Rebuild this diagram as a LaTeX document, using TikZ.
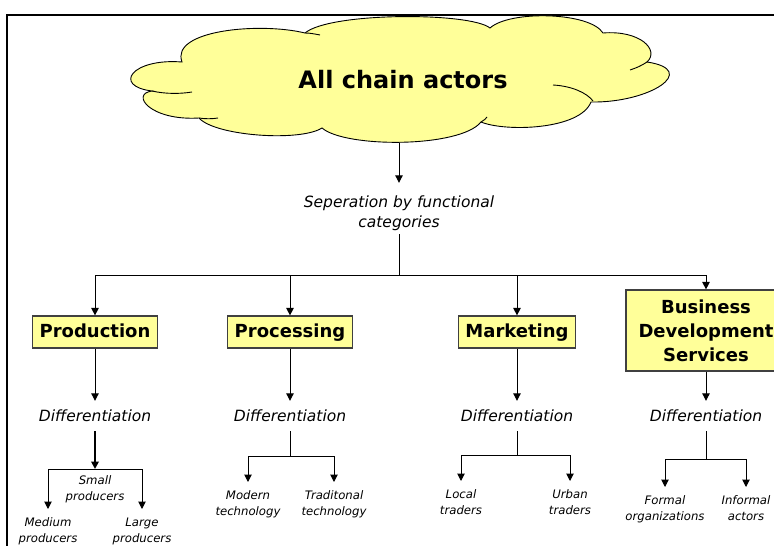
\documentclass[tikz,border=0pt]{standalone}
\usepackage{fontspec}
\setmainfont{DejaVu Sans}
\usetikzlibrary{arrows.meta}
\definecolor{chainyellow}{HTML}{FFFF99}

\begin{document}
\begin{tikzpicture}[x=1pt,y=-1pt,
	tip/.style={-{Triangle[width=7.5pt,length=7.5pt]}},
	link/.style={line width=1pt},
	box/.style={draw=black!75,line width=1.2pt,fill=chainyellow,font=\fontsize{18}{24}\selectfont\bfseries,inner xsep=7pt,minimum height=32pt,align=center},
	oneline/.style={box,text height=13.5pt,text depth=3.5pt},
	diff/.style={font=\fontsize{15.5}{20}\selectfont\itshape,inner ysep=9pt},
	leaf/.style={font=\fontsize{11.7}{16}\selectfont\itshape,align=center,anchor=north,inner ysep=8.5pt,inner xsep=0pt}]
	\useasboundingbox (0,0) rectangle (774,546);
	\clip (0,0) rectangle (774,546);
	\draw[line width=2.2pt] (7,15) rectangle (800,570);
	% cloud
	\filldraw[fill=chainyellow,line width=0.9pt] (182,62) .. controls (132,58) and (112,86) .. (152,91)
		.. controls (130,94) and (150,121) .. (199,118)
		.. controls (215,136) and (300,142) .. (322,128)
		.. controls (345,148) and (460,148) .. (481,122)
		.. controls (505,132) and (580,130) .. (591,102)
		.. controls (650,103) and (700,70) .. (647,62)
		.. controls (660,50) and (640,30) .. (603,33)
		.. controls (590,12) and (510,10) .. (490,28)
		.. controls (470,12) and (330,12) .. (305,33)
		.. controls (260,22) and (170,30) .. (182,62) -- cycle;
	\draw[line width=0.9pt] (152,91) .. controls (165,94) and (180,94) .. (192,92);
	\draw[line width=0.9pt] (199,118) .. controls (205,119) and (212,119) .. (218,118);
	\draw[line width=0.9pt] (481,122) .. controls (484,120) and (486,119) .. (487,117);
	\draw[line width=0.9pt] (553,85) .. controls (572,86) and (587,93) .. (593,101);
	\draw[line width=0.9pt] (647,62) .. controls (641,66) and (636,68) .. (630,70);
	\draw[line width=0.9pt] (305,33) .. controls (310,33) and (315,34) .. (320,35);
	\node[font=\fontsize{24}{29}\selectfont\bfseries] (actors) at (403,80) {All chain actors};
	\coordinate (cloudbot) at (399,143);
	% functional categories
	\node[font=\fontsize{15.5}{20}\selectfont\itshape,align=center,inner ysep=3pt] (sep) at (399,213.5) {Seperation by functional\\categories};
	\draw[link,tip] (cloudbot) -- ([yshift=10pt]sep.north);
	\coordinate (hub) at (399,275);
	\draw[link] (sep) -- (hub);
	\node[oneline] (prod) at (95,332) {Production};
	\node[oneline] (proc) at (290,332) {Processing};
	\node[oneline] (mark) at (517,332) {Marketing};
	\node[box,minimum width=160pt,minimum height=81pt] (bds) at (706,330.5) {Business\\Development\\Services};
	\draw[link] (prod |- hub) -- (bds |- hub);
	\node[diff] (dprod) at (95,416) {Differentiation};
	\node[diff] (dproc) at (290,416) {Differentiation};
	\node[diff] (dmark) at (517,416) {Differentiation};
	\node[diff] (dbds) at (706,416) {Differentiation};
	\foreach \n in {prod,proc,mark,bds} {
		\draw[link,tip] (\n |- hub) -- (\n);
		\draw[link,tip] (\n) -- (d\n);
	}
	% production
	\coordinate (pjoin) at (95,469);
	\draw[line width=1.8pt,tip] (dprod) -- (pjoin);
	\node[leaf] (small) at (95,467) {Small\\producers};
	\node[leaf] (medium) at (48,509) {Medium\\producers};
	\node[leaf] (large) at (142,509) {Large\\producers};
	\draw[link] (medium |- pjoin) -- (large |- pjoin);
	\draw[link,tip] (medium |- pjoin) -- (medium);
	\draw[link,tip] (large |- pjoin) -- (large);
	% processing
	\coordinate (cjoin) at (290,456);
	\draw[link] (dproc) -- (cjoin);
	\node[leaf] (modern) at (248,482) {Modern\\technology};
	\node[leaf] (trad) at (334,482) {Traditonal\\technology};
	\draw[link] (modern |- cjoin) -- (trad |- cjoin);
	\draw[link,tip] (modern |- cjoin) -- (modern);
	\draw[link,tip] (trad |- cjoin) -- (trad);
	% marketing
	\coordinate (mjoin) at (517,455);
	\draw[link] (dmark) -- (mjoin);
	\node[leaf] (local) at (461,481) {Local\\traders};
	\node[leaf] (urban) at (570,481) {Urban\\traders};
	\draw[link] (local |- mjoin) -- (urban |- mjoin);
	\draw[link,tip] (local |- mjoin) -- (local);
	\draw[link,tip] (urban |- mjoin) -- (urban);
	% business development services
	\coordinate (bjoin) at (706,459);
	\draw[link] (dbds) -- (bjoin);
	\node[leaf] (formal) at (665,487) {Formal\\organizations};
	\node[leaf] (informal) at (746,487) {Informal\\actors};
	\draw[link] (formal |- bjoin) -- (informal |- bjoin);
	\draw[link,tip] (formal |- bjoin) -- (formal);
	\draw[link,tip] (informal |- bjoin) -- (informal);
\end{tikzpicture}
\end{document}
